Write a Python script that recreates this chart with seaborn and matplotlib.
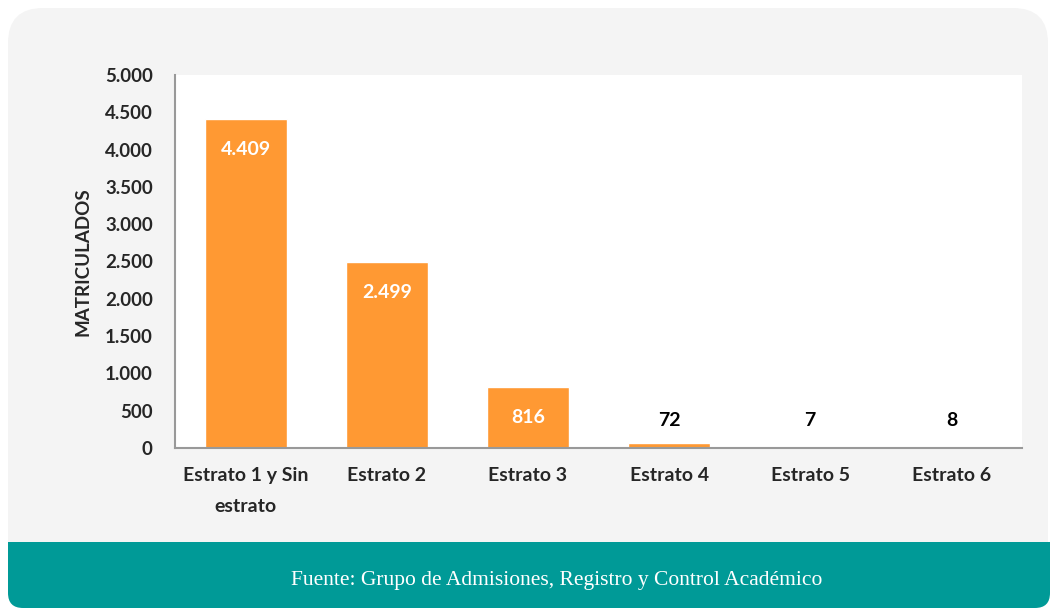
import matplotlib
matplotlib.use("Agg")
import matplotlib.pyplot as plt
from matplotlib.patches import FancyBboxPatch, Rectangle
from matplotlib.ticker import FuncFormatter
import pandas as pd
import seaborn as sns

categorias = ["Estrato 1 y Sin\nestrato", "Estrato 2", "Estrato 3", "Estrato 4", "Estrato 5", "Estrato 6"]
matriculados = [4409, 2499, 816, 72, 7, 8]
y_ticks = [0, 500, 1000, 1500, 2000, 2500, 3000, 3500, 4000, 4500, 5000]
fuente = "Fuente: Grupo de Admisiones, Registro y Control Académico"

NARANJA = "#FF9933"
TEAL = "#009A97"
GRIS = "#F4F4F4"


def miles(v, _pos):
    return f"{int(v):,}".replace(",", ".")


def main():
    sns.set_style("white")
    plt.rcParams["font.family"] = ["Lato", "DejaVu Sans"]

    fig = plt.figure(figsize=(10.5, 6.11), dpi=100)
    fig.patch.set_facecolor("white")

    # panel de fondo gris con esquinas redondeadas
    tr = fig.dpi_scale_trans
    fig.patches.append(FancyBboxPatch((0.08, 0.03), 10.40, 6.00, boxstyle="round,pad=0,rounding_size=0.35",
                                      transform=tr, facecolor=GRIS, edgecolor="none", zorder=-3))
    # franja inferior verde azulado
    fig.patches.append(FancyBboxPatch((0.08, 0.03), 10.42, 0.66, boxstyle="round,pad=0,rounding_size=0.15",
                                      transform=tr, facecolor=TEAL, edgecolor="none", zorder=-2))
    fig.patches.append(Rectangle((0.08, 0.35), 10.42, 0.34, transform=tr, facecolor=TEAL,
                                 edgecolor="none", zorder=-2))
    fig.text(557 / 1050, 1 - 580 / 611, fuente, color="white", ha="center", va="center",
             fontsize=15.5, family=["Liberation Serif", "DejaVu Serif"])

    ax = fig.add_axes([175 / 1050, 1 - 448 / 611, 847 / 1050, 373 / 611])
    ax.set_facecolor("white")

    df = pd.DataFrame({"categoria": categorias, "matriculados": matriculados})
    sns.barplot(data=df, x="categoria", y="matriculados", color=NARANJA, saturation=1,
                width=0.58, ax=ax)

    ax.set_xlim(-0.5, 5.5)
    ax.set_ylim(0, 5000)
    ax.set_yticks(y_ticks)
    ax.yaxis.set_major_formatter(FuncFormatter(miles))
    ax.tick_params(axis="x", length=0, labelsize=14, pad=14)
    ax.tick_params(axis="y", length=0, labelsize=13.5, pad=16)
    for lbl in ax.get_xticklabels() + ax.get_yticklabels():
        lbl.set_fontweight("bold")
    for lbl in ax.get_xticklabels():
        lbl.set_linespacing(2.0)
        lbl.set_va("top")

    ax.set_xlabel("")
    ax.set_ylabel("MATRICULADOS", fontsize=13.5, fontweight="bold", labelpad=10)

    for s in ["top", "right"]:
        ax.spines[s].set_visible(False)
    for s in ["left", "bottom"]:
        ax.spines[s].set_color("#999999")
        ax.spines[s].set_linewidth(1.5)

    for i, v in enumerate(matriculados):
        txt = miles(v, None)
        if v > 500:
            ax.annotate(txt, (i, v), xytext=(0, -22), textcoords="offset points", ha="center",
                        va="center", color="white", fontsize=14, fontweight="bold")
        else:
            ax.annotate(txt, (i, 375), ha="center", va="center", color="black",
                        fontsize=14, fontweight="bold")

    fig.savefig("out.png", dpi=100)
    plt.close(fig)


if __name__ == "__main__":
    main()
